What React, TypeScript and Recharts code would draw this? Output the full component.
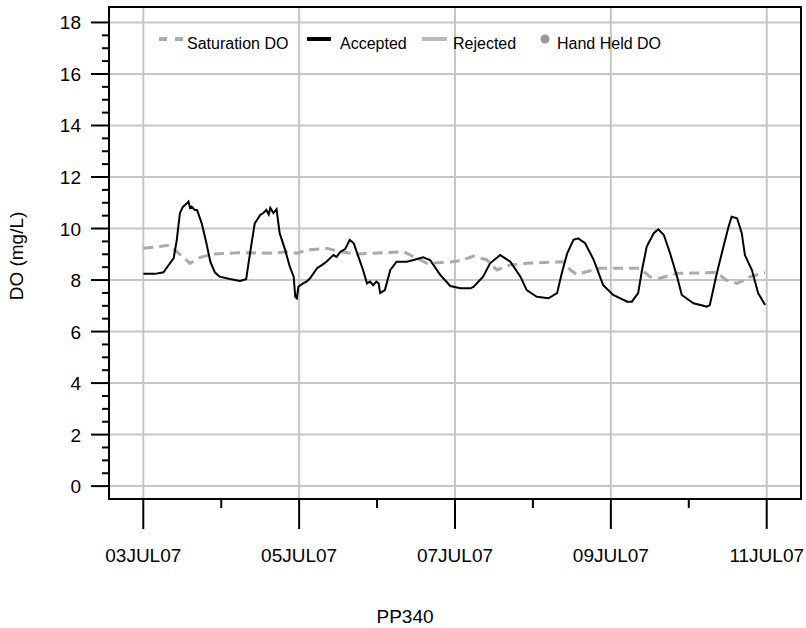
import React from 'react';
import { LineChart, Line, XAxis, YAxis, CartesianGrid, ReferenceArea, Label } from 'recharts';

// Time is expressed in days since 03JUL07 00:00
const acceptedDays = [
  0.0, 0.15, 0.26, 0.28, 0.39, 0.43, 0.47, 0.51, 0.55, 0.58, 0.6, 0.62, 0.66, 0.69, 0.75, 0.81, 0.86, 0.92, 0.98,
  1.11, 1.24, 1.32, 1.35, 1.39, 1.43, 1.5, 1.54, 1.58, 1.61, 1.63, 1.67, 1.71, 1.75, 1.82, 1.88, 1.93, 1.95, 1.97,
  1.99, 2.05, 2.1, 2.14, 2.23, 2.3, 2.35, 2.44, 2.48, 2.53, 2.59, 2.65, 2.7, 2.76, 2.82, 2.87, 2.91, 2.95, 2.99,
  3.02, 3.04, 3.1, 3.17, 3.25, 3.38, 3.47, 3.59, 3.68, 3.81, 3.94, 4.07, 4.2, 4.24, 4.36, 4.45, 4.58, 4.71, 4.84,
  4.92, 5.05, 5.2, 5.31, 5.37, 5.44, 5.52, 5.58, 5.67, 5.78, 5.9, 6.03, 6.21, 6.27, 6.35, 6.4, 6.46, 6.55, 6.61,
  6.68, 6.76, 6.85, 6.91, 7.06, 7.23, 7.27, 7.36, 7.45, 7.51, 7.55, 7.62, 7.68, 7.72, 7.81, 7.89, 7.98,
];
const acceptedDO = [
  8.24, 8.24, 8.3, 8.39, 8.85, 9.56, 10.6, 10.85, 10.95, 11.05, 10.8, 10.85, 10.72, 10.72, 10.2, 9.43, 8.71, 8.29, 8.13,
  8.04, 7.96, 8.03, 8.65, 9.43, 10.2, 10.53, 10.6, 10.72, 10.55, 10.8, 10.6, 10.75, 9.82, 9.17, 8.52, 8.13, 7.35, 7.29,
  7.74, 7.87, 7.95, 8.07, 8.46, 8.6, 8.71, 8.97, 8.9, 9.1, 9.2, 9.56, 9.43, 8.91, 8.39, 7.87, 7.94, 7.8, 7.94,
  7.87, 7.49, 7.61, 8.39, 8.71, 8.71, 8.78, 8.88, 8.78, 8.2, 7.77, 7.68, 7.68, 7.74, 8.13, 8.65, 8.97, 8.71, 8.13,
  7.61, 7.35, 7.29, 7.49, 8.26, 9.04, 9.56, 9.62, 9.43, 8.78, 7.81, 7.42, 7.16, 7.16, 7.49, 8.39, 9.3, 9.82, 9.97,
  9.75, 9.04, 8.13, 7.42, 7.1, 6.97, 7.03, 8.26, 9.36, 10.07, 10.46, 10.4, 9.82, 8.97, 8.39, 7.49, 7.03,
];

const saturationDays = [
  0.0, 0.21, 0.34, 0.43, 0.6, 0.73, 0.9, 1.24, 1.67, 1.84, 1.97, 2.1, 2.35, 2.53, 2.74, 2.95, 3.34, 3.51, 3.64,
  3.94, 4.07, 4.24, 4.41, 4.54, 4.71, 4.92, 5.39, 5.48, 5.56, 5.86, 6.37, 6.5, 6.63, 6.85, 7.36, 7.48, 7.62, 7.79, 7.98,
];
const saturationDO = [
  9.23, 9.3, 9.36, 9.1, 8.65, 8.88, 9.01, 9.06, 9.04, 9.1, 9.04, 9.17, 9.23, 9.1, 9.01, 9.04, 9.1, 8.85, 8.65,
  8.7, 8.75, 8.93, 8.78, 8.39, 8.59, 8.65, 8.71, 8.39, 8.22, 8.46, 8.46, 8.13, 8.07, 8.26, 8.29, 8.0, 7.87, 8.13, 8.29,
];

const xTicks = [0, 1, 2, 3, 4, 5, 6, 7, 8];
const xMajor = [0, 2, 4, 6, 8];
const xTickLabels = ['03JUL07', '05JUL07', '07JUL07', '09JUL07', '11JUL07'];
const yTicks = [
  0, 0.5, 1, 1.5, 2, 2.5, 3, 3.5, 4, 4.5, 5, 5.5, 6, 6.5, 7, 7.5, 8, 8.5, 9, 9.5,
  10, 10.5, 11, 11.5, 12, 12.5, 13, 13.5, 14, 14.5, 15, 15.5, 16, 16.5, 17, 17.5, 18,
];
const yMajor = [0, 2, 4, 6, 8, 10, 12, 14, 16, 18];
const xDomain = [-0.44, 8.44];
const yDomain = [-0.5, 18.6];

const legendNames = ['Saturation DO', 'Accepted', 'Rejected', 'Hand Held DO'];

const FONT = '"Liberation Sans", Arial, Helvetica, sans-serif';

const acceptedData = acceptedDays.map((d, i) => ({ day: d, v: acceptedDO[i] }));
const saturationData = saturationDays.map((d, i) => ({ day: d, v: saturationDO[i] }));

const YTick = (props: any) => {
  const { x, y, payload } = props;
  const v = payload.value;
  const major = v % 2 === 0;
  return (
    <g>
      <line x1={x} x2={x - (major ? 18 : 7)} y1={y} y2={y} stroke="#000" strokeWidth={2} />
      {major && (
        <text x={x - 28} y={y + 7} textAnchor="end" fontSize={19} fontFamily={FONT} fill="#000">
          {v}
        </text>
      )}
    </g>
  );
};

const XTick = (props: any) => {
  const { x, y, payload } = props;
  const v = payload.value;
  const major = v % 2 === 0;
  return (
    <g>
      <line x1={x} x2={x} y1={y} y2={y + (major ? 30 : 9)} stroke="#000" strokeWidth={2} />
      {major && (
        <text x={x} y={y + 63} textAnchor="middle" fontSize={19} fontFamily={FONT} fill="#000">
          {xTickLabels[v / 2]}
        </text>
      )}
    </g>
  );
};

const Legend = () => (
  <svg width={806} height={70} style={{ position: 'absolute', left: 0, top: 0, pointerEvents: 'none' }}>
    <g fontFamily={FONT} fontSize={16} fill="#000">
      <line x1={159} x2={184} y1={39} y2={39} stroke="#aaaaaa" strokeWidth={4} strokeDasharray="8 8" />
      <text x={187} y={49}>{legendNames[0]}</text>
      <line x1={307} x2={331} y1={39} y2={39} stroke="#000" strokeWidth={4} />
      <text x={340} y={49}>{legendNames[1]}</text>
      <line x1={422} x2={447} y1={39} y2={39} stroke="#bbbbbb" strokeWidth={4} />
      <text x={453} y={49}>{legendNames[2]}</text>
      <circle cx={545} cy={39} r={4.5} fill="#999999" />
      <text x={557} y={49}>{legendNames[3]}</text>
    </g>
  </svg>
);

export default function App() {
  return (
    <div style={{ position: 'absolute', left: 0, top: 0, width: 806, height: 628, background: '#fff' }}>
      <LineChart width={806} height={628} margin={{ top: 7, right: 5, left: 0, bottom: 0 }}>
        <CartesianGrid
          horizontalValues={yMajor}
          verticalValues={xMajor}
          stroke="#c6c6c6"
          strokeWidth={2}
        />
        <XAxis
          dataKey="day"
          type="number"
          domain={xDomain}
          allowDataOverflow
          ticks={xTicks}
          interval={0}
          height={129}
          tickSize={0}
          tickMargin={0}
          tickLine={false}
          tick={<XTick />}
          axisLine={{ stroke: '#000', strokeWidth: 2 }}
        >
          <Label
            content={() => (
              <text x={405} y={623} textAnchor="middle" fontSize={19} fontFamily={FONT} fill="#000">
                PP340
              </text>
            )}
          />
        </XAxis>
        <YAxis
          type="number"
          domain={yDomain}
          allowDataOverflow
          ticks={yTicks}
          interval={0}
          width={109}
          tickSize={0}
          tickMargin={0}
          tickLine={false}
          tick={<YTick />}
          axisLine={{ stroke: '#000', strokeWidth: 2 }}
        >
          <Label
            content={() => (
              <text
                x={23}
                y={256}
                transform="rotate(-90 23 256)"
                textAnchor="middle"
                fontSize={19}
                fontFamily={FONT}
                fill="#000"
              >
                DO (mg/L)
              </text>
            )}
          />
        </YAxis>
        <ReferenceArea
          x1={xDomain[0]}
          x2={xDomain[1]}
          y1={yDomain[0]}
          y2={yDomain[1]}
          fill="none"
          stroke="#000"
          strokeWidth={2}
          ifOverflow="visible"
        />
        <Line
          data={saturationData}
          dataKey="v"
          type="linear"
          stroke="#aaaaaa"
          strokeWidth={3}
          strokeDasharray="10 6"
          dot={false}
          isAnimationActive={false}
        />
        <Line
          data={acceptedData}
          dataKey="v"
          type="linear"
          stroke="#000"
          strokeWidth={2}
          dot={false}
          isAnimationActive={false}
        />
      </LineChart>
      <Legend />
    </div>
  );
}
